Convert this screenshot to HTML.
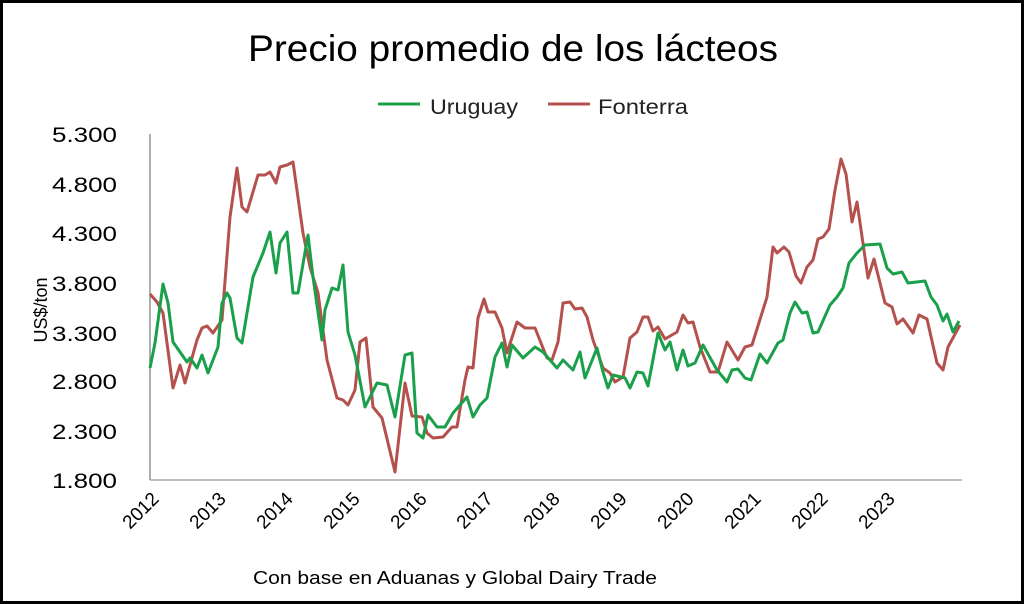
<!DOCTYPE html>
<html><head><meta charset="utf-8"><style>
html,body{margin:0;padding:0;background:#fff;}
svg{display:block;font-family:"Liberation Sans",sans-serif;}
</style></head><body>
<svg width="1024" height="604" viewBox="0 0 1024 604" xmlns="http://www.w3.org/2000/svg">
<rect x="1.5" y="1.5" width="1021" height="601" fill="#fff" stroke="#000" stroke-width="3"/>
<text x="248" y="61" font-size="37" textLength="530" lengthAdjust="spacingAndGlyphs" fill="#000">Precio promedio de los lácteos</text>
<line x1="378" y1="104" x2="420" y2="104" stroke="#1aa04a" stroke-width="3"/>
<text x="430" y="114" font-size="21" textLength="88" lengthAdjust="spacingAndGlyphs" fill="#222">Uruguay</text>
<line x1="548" y1="104" x2="590" y2="104" stroke="#b5514c" stroke-width="3"/>
<text x="598" y="114" font-size="21" textLength="90" lengthAdjust="spacingAndGlyphs" fill="#222">Fonterra</text>
<g font-size="21" fill="#000">
<text x="52" y="142" textLength="65" lengthAdjust="spacingAndGlyphs">5.300</text>
<text x="52" y="192" textLength="65" lengthAdjust="spacingAndGlyphs">4.800</text>
<text x="52" y="241" textLength="65" lengthAdjust="spacingAndGlyphs">4.300</text>
<text x="52" y="291" textLength="65" lengthAdjust="spacingAndGlyphs">3.800</text>
<text x="52" y="341" textLength="65" lengthAdjust="spacingAndGlyphs">3.300</text>
<text x="52" y="389" textLength="65" lengthAdjust="spacingAndGlyphs">2.800</text>
<text x="52" y="439" textLength="65" lengthAdjust="spacingAndGlyphs">2.300</text>
<text x="52" y="488" textLength="65" lengthAdjust="spacingAndGlyphs">1.800</text>
</g>
<text transform="translate(47,310) rotate(-90)" font-size="18" text-anchor="middle">US$/ton</text>
<line x1="150" y1="134" x2="150" y2="480" stroke="#777" stroke-width="1.2"/>
<line x1="150" y1="480" x2="962" y2="480" stroke="#999" stroke-width="1.2"/>
<g font-size="19" text-anchor="end">
<text transform="translate(160,500) rotate(-45)">2012</text>
<text transform="translate(227,500) rotate(-45)">2013</text>
<text transform="translate(294,500) rotate(-45)">2014</text>
<text transform="translate(361,500) rotate(-45)">2015</text>
<text transform="translate(428,500) rotate(-45)">2016</text>
<text transform="translate(494,500) rotate(-45)">2017</text>
<text transform="translate(561,500) rotate(-45)">2018</text>
<text transform="translate(628,500) rotate(-45)">2019</text>
<text transform="translate(695,500) rotate(-45)">2020</text>
<text transform="translate(762,500) rotate(-45)">2021</text>
<text transform="translate(829,500) rotate(-45)">2022</text>
<text transform="translate(896,500) rotate(-45)">2023</text>
</g>
<text x="253" y="584" font-size="18" textLength="404" lengthAdjust="spacingAndGlyphs">Con base en Aduanas y Global Dairy Trade</text>
<polyline fill="none" stroke="#b5514c" stroke-width="3" stroke-linejoin="round" points="150,294 157,302 163,313 173,388 180,365 185,383 197,340 202,328 207,326 213,333 222,320 230,217 237,168 242,207 247,212 258,175 265,175 270,172 276,183 280,167 287,165 293,162 303,233 310,267 318,293 327,360 337,398 343,400 348,405 355,390 360,342 366,338 373,407 382,418 395,472 405,383 412,416 422,417 427,433 433,438 443,437 452,427 457,427 465,380 468,367 473,368 478,318 484,299 488,312 495,312 502,328 507,353 517,322 525,328 535,328 547,358 552,360 558,342 563,303 570,302 575,309 582,308 587,317 593,340 603,368 610,373 615,382 623,377 630,338 637,332 643,317 648,317 653,331 658,327 665,339 677,332 683,315 688,323 693,322 700,347 710,372 718,372 727,342 738,360 745,347 752,345 767,297 773,247 777,253 784,247 789,252 796,276 801,283 807,267 813,260 818,239 823,237 829,229 835,190 841,159 846,174 852,222 857,202 868,278 874,259 885,303 892,307 897,324 903,319 913,333 919,315 927,319 937,363 943,370 948,347 960,325"/>
<polyline fill="none" stroke="#1aa04a" stroke-width="3" stroke-linejoin="round" points="150,368 155,343 163,284 168,303 173,342 187,362 190,358 197,368 202,355 208,373 218,347 222,303 227,293 230,298 237,338 242,343 253,277 263,253 270,232 276,273 280,243 287,232 293,293 298,293 308,235 313,277 322,340 325,310 332,288 338,290 343,265 348,332 355,355 365,407 377,383 387,385 395,417 405,355 412,353 417,433 423,438 428,415 437,427 445,427 453,413 467,397 473,417 480,405 487,398 495,357 502,343 507,367 512,345 523,358 535,347 543,352 557,368 563,360 573,370 580,352 585,378 597,348 603,372 608,388 613,375 625,378 630,388 637,372 643,373 648,386 658,333 665,350 670,342 677,370 683,350 688,366 695,363 703,345 717,370 727,382 732,370 738,369 745,378 751,380 760,354 767,363 778,343 783,340 790,313 795,302 802,313 807,312 813,333 818,332 830,305 837,297 843,288 849,263 857,253 865,245 880,244 887,268 893,274 902,272 908,283 925,281 931,297 937,305 943,321 947,314 953,332 959,321"/>
</svg>
</body></html>
